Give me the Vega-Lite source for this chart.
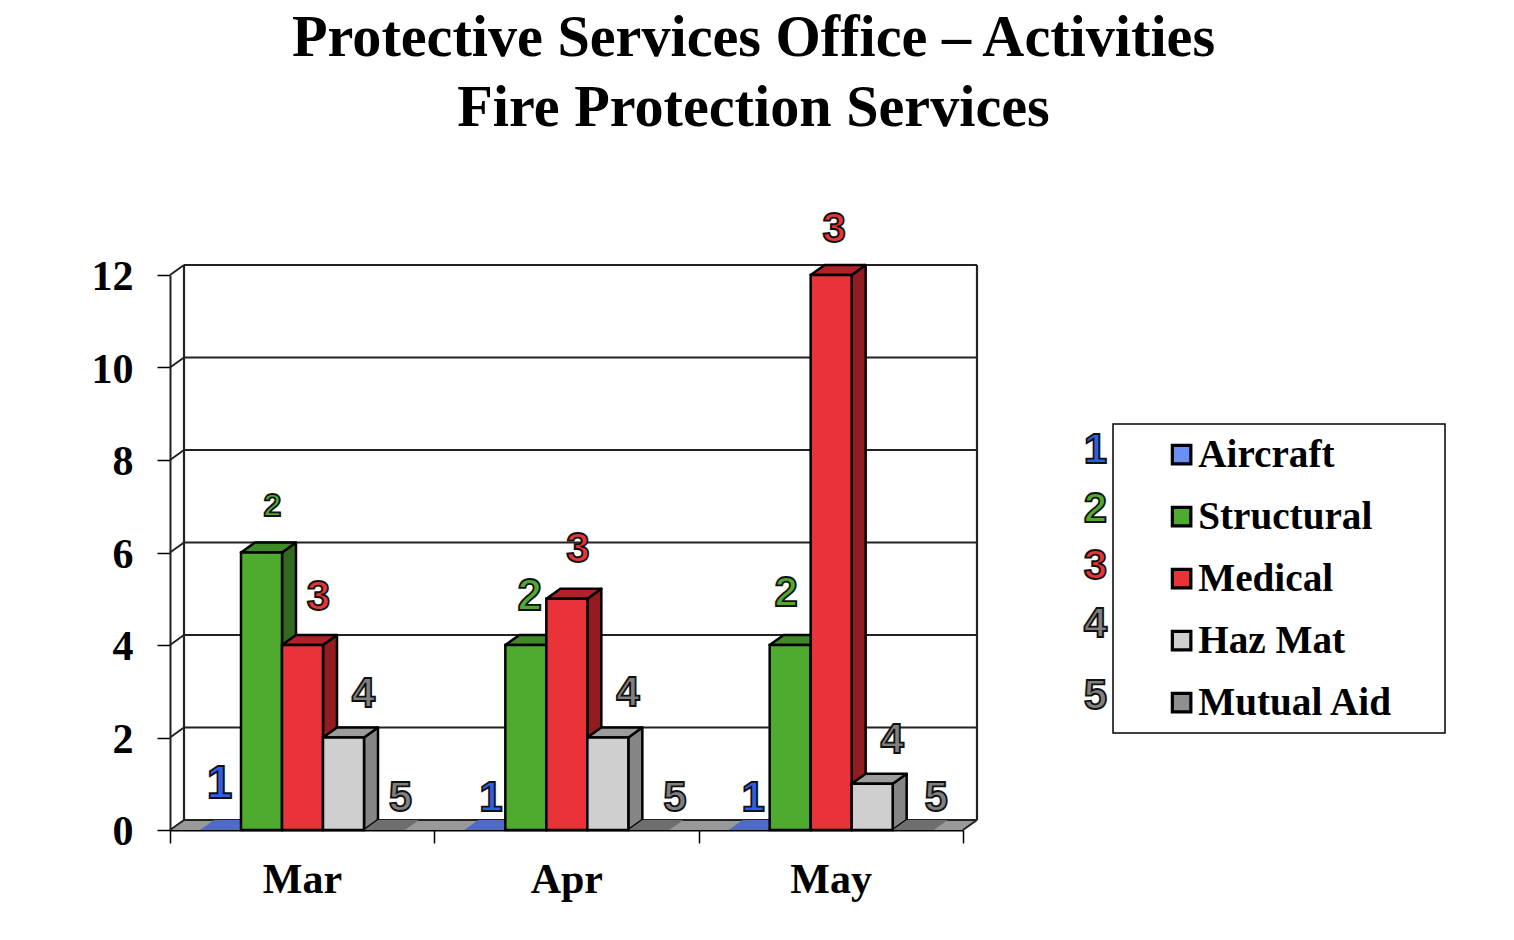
{"$schema":"https://vega.github.io/schema/vega-lite/v6.json","width":793,"height":555,"autosize":"none","padding":{"left":170,"top":275,"right":551,"bottom":110},"background":"white",
"title":{"text":["Protective Services Office – Activities","Fire Protection Services"],"font":"Liberation Serif","fontWeight":"bold","fontSize":58.2,"lineHeight":70,"color":"black","anchor":"middle","dx":187,"offset":70},
"config":{"view":{"stroke":null},"font":"Liberation Serif"},
"data":{"values":[
{"month":"Mar","series":"Aircraft","value":0,"code":"1"},{"month":"Mar","series":"Structural","value":6,"code":"2"},{"month":"Mar","series":"Medical","value":4,"code":"3"},{"month":"Mar","series":"Haz Mat","value":2,"code":"4"},{"month":"Mar","series":"Mutual Aid","value":0,"code":"5"},
{"month":"Apr","series":"Aircraft","value":0,"code":"1"},{"month":"Apr","series":"Structural","value":4,"code":"2"},{"month":"Apr","series":"Medical","value":5,"code":"3"},{"month":"Apr","series":"Haz Mat","value":2,"code":"4"},{"month":"Apr","series":"Mutual Aid","value":0,"code":"5"},
{"month":"May","series":"Aircraft","value":0,"code":"1"},{"month":"May","series":"Structural","value":4,"code":"2"},{"month":"May","series":"Medical","value":12,"code":"3"},{"month":"May","series":"Haz Mat","value":1,"code":"4"},{"month":"May","series":"Mutual Aid","value":0,"code":"5"}
]},
"transform":[
{"calculate":"indexof(['Mar','Apr','May'],datum.month)","as":"mi"},
{"calculate":"indexof(['Aircraft','Structural','Medical','Haz Mat','Mutual Aid'],datum.series)","as":"si"},
{"calculate":"datum.mi+(30+datum.si*41)/264.33","as":"xL"},
{"calculate":"datum.xL+41/264.33","as":"xR"},
{"calculate":"datum.month+datum.series","as":"barId"},
{"calculate":"{'Aircraft':'#4F6CC0','Structural':'#3F8A26','Medical':'#B02229','Haz Mat':'#9C9C9C','Mutual Aid':'#6E6E6E'}[datum.series]","as":"topColor"},
{"calculate":"{'Aircraft':'#3F559A','Structural':'#33691F','Medical':'#931C21','Haz Mat':'#858585','Mutual Aid':'#5A5A5A'}[datum.series]","as":"sideColor"},
{"calculate":"{'Aircraft':'#2F5FE8','Structural':'#4FAB2F','Medical':'#E93338','Haz Mat':'#808080','Mutual Aid':'#808080'}[datum.series]","as":"labelColor"}
],
"layer":[
{"data":{"values":[{"corner":0},{"corner":1}]},"transform":[{"calculate":"datum.corner*14/264.33","as":"fx"},{"calculate":"3+datum.corner*14/264.33","as":"fx2"},{"calculate":"datum.corner*10/46.25","as":"fy"}],
"mark":{"type":"area","orient":"horizontal","fill":"#999999"},
"encoding":{"y":{"field":"fy","type":"quantitative","stack":null,"scale":{"domain":[0,12],"nice":false},"axis":{"values":[0,2,4,6,8,10,12],"title":null,"grid":false,"tickSize":13,"tickWidth":1.5,"tickColor":"black","domainColor":"#222222","domainWidth":2,"labelFont":"Liberation Serif","labelFontWeight":"bold","labelFontSize":42,"labelColor":"black","labelPadding":24,"labelBaseline":"middle","labelOffset":1.5,"labelOverlap":false,"labelBound":false,"labelFlush":false}},
"x":{"field":"fx","type":"quantitative","scale":{"domain":[0,3],"nice":false,"zero":false},"axis":{"values":[0,1,2,3],"title":null,"grid":false,"tickSize":13,"tickWidth":1.5,"tickColor":"black","domainColor":"black","domainWidth":2,"labelExpr":"['Mar','Apr','May',''][datum.value]","labelOffset":132,"labelFont":"Liberation Serif","labelFontWeight":"bold","labelFontSize":42,"labelColor":"black","labelPadding":16,"labelOverlap":false,"labelBound":false,"labelFlush":false}},
"x2":{"field":"fx2"}}},
{"data":{"values":[{"level":0},{"level":2},{"level":4},{"level":6},{"level":8},{"level":10},{"level":12}]},"transform":[{"calculate":"14/264.33","as":"bx"},{"calculate":"3+14/264.33","as":"bx2"},{"calculate":"datum.level+10/46.25","as":"by"}],
"mark":{"type":"rule","stroke":"#222222","strokeWidth":2.2},"encoding":{"x":{"field":"bx","type":"quantitative"},"x2":{"field":"bx2"},"y":{"field":"by","type":"quantitative"}}},
{"data":{"values":[{"level":0},{"level":2},{"level":4},{"level":6},{"level":8},{"level":10},{"level":12}]},"transform":[{"calculate":"0","as":"a"},{"calculate":"14/264.33","as":"bx"},{"calculate":"datum.level+10/46.25","as":"by"}],
"mark":{"type":"rule","stroke":"#222222","strokeWidth":2},"encoding":{"x":{"field":"a","type":"quantitative"},"x2":{"field":"bx"},"y":{"field":"level","type":"quantitative"},"y2":{"field":"by"}}},
{"data":{"values":[{"edge":0},{"edge":3}]},"transform":[{"calculate":"datum.edge+14/264.33","as":"bx"},{"calculate":"10/46.25","as":"y0"},{"calculate":"12+10/46.25","as":"y1"}],
"mark":{"type":"rule","stroke":"#222222","strokeWidth":2.2},"encoding":{"x":{"field":"bx","type":"quantitative"},"y":{"field":"y0","type":"quantitative"},"y2":{"field":"y1"}}},
{"data":{"values":[{"edge":3}]},"transform":[{"calculate":"datum.edge+14/264.33","as":"bx"},{"calculate":"10/46.25","as":"by"},{"calculate":"0","as":"y0"}],
"mark":{"type":"rule","stroke":"#222222","strokeWidth":2},"encoding":{"x":{"field":"edge","type":"quantitative"},"x2":{"field":"bx"},"y":{"field":"y0","type":"quantitative"},"y2":{"field":"by"}}},
{"transform":[{"filter":"datum.value>0"},{"calculate":"[0,1]","as":"corner"},{"flatten":["corner"]},{"calculate":"datum.xR+datum.corner*14/264.33","as":"sx"},{"calculate":"datum.value+datum.corner*10/46.25","as":"sy"},{"calculate":"datum.corner*10/46.25","as":"sy2"}],
"mark":{"type":"area","orient":"vertical","stroke":"black","strokeWidth":2.5,"strokeJoin":"round"},
"encoding":{"x":{"field":"sx","type":"quantitative"},"y":{"field":"sy","type":"quantitative","stack":null},"y2":{"field":"sy2"},"detail":{"field":"barId"},"fill":{"field":"sideColor","type":"nominal","scale":null,"legend":null}}},
{"transform":[{"calculate":"[0,1]","as":"corner"},{"flatten":["corner"]},{"calculate":"datum.xL+datum.corner*14/264.33","as":"tx"},{"calculate":"datum.xR+datum.corner*14/264.33","as":"tx2"},{"calculate":"datum.value+datum.corner*10/46.25","as":"ty"}],
"mark":{"type":"area","orient":"horizontal","strokeJoin":"round","stroke":"black"},
"encoding":{"y":{"field":"ty","type":"quantitative","stack":null},"x":{"field":"tx","type":"quantitative"},"x2":{"field":"tx2"},"detail":{"field":"barId"},"fill":{"field":"topColor","type":"nominal","scale":null,"legend":null},"strokeWidth":{"condition":{"test":"datum.value>0","value":2.5},"value":0}}},
{"transform":[{"filter":"datum.value>0"},{"calculate":"0","as":"base"}],
"mark":{"type":"rect","stroke":"black","strokeWidth":2.5},
"encoding":{"x":{"field":"xL","type":"quantitative"},"x2":{"field":"xR"},"y":{"field":"value","type":"quantitative"},"y2":{"field":"base"},
"fill":{"field":"series","type":"nominal","scale":{"domain":["Aircraft","Structural","Medical","Haz Mat","Mutual Aid"],"range":["#6A90F5","#4FAB2F","#E93338","#CFCFCF","#8F8F8F"]},
"legend":{"title":null,"orient":"none","legendX":992,"legendY":160,"padding":0,"symbolType":"square","symbolSize":342,"symbolStrokeColor":"black","symbolStrokeWidth":3.2,"labelFont":"Liberation Serif","labelFontWeight":"bold","labelFontSize":39.2,"labelColor":"black","labelOffset":-3,"rowPadding":22,"labelLimit":400}}}},
{"data":{"values":[{"box":"legend"}]},"transform":[{"calculate":"(1113-170)/264.33","as":"x1"},{"calculate":"(1445-170)/264.33","as":"x2"},{"calculate":"(830-424)/46.25","as":"y1"},{"calculate":"(830-733)/46.25","as":"y2"}],
"mark":{"type":"rect","fillOpacity":0,"stroke":"black","strokeWidth":1.5},"encoding":{"x":{"field":"x1","type":"quantitative"},"x2":{"field":"x2"},"y":{"field":"y1","type":"quantitative"},"y2":{"field":"y2"}}},
{"transform":[{"calculate":"datum.month+'|'+datum.series","as":"k"},
{"calculate":"{'Mar|Aircraft':-2,'Mar|Structural':10,'Mar|Medical':15,'Mar|Haz Mat':19,'Mar|Mutual Aid':15,'Apr|Aircraft':5,'Apr|Structural':3,'Apr|Medical':10,'Apr|Haz Mat':19,'Apr|Mutual Aid':25,'May|Aircraft':3,'May|Structural':-5,'May|Medical':2,'May|Haz Mat':19,'May|Mutual Aid':22}[datum.k]","as":"ox"},
{"calculate":"{'Mar|Aircraft':47,'Mar|Structural':48,'Mar|Medical':49,'Mar|Haz Mat':45,'Mar|Mutual Aid':33,'Apr|Aircraft':33,'Apr|Structural':49,'Apr|Medical':51,'Apr|Haz Mat':46,'Apr|Mutual Aid':33,'May|Aircraft':33,'May|Structural':53,'May|Medical':47,'May|Haz Mat':45,'May|Mutual Aid':33}[datum.k]","as":"oy"},
{"calculate":"datum.k=='Mar|Structural'?32:datum.k=='Mar|Aircraft'?46:datum.k=='Apr|Structural'?44:42","as":"fs"},
{"calculate":"(datum.xL+datum.xR)/2+(datum.ox+1)/264.33","as":"lx"},{"calculate":"datum.value+(datum.oy-1)/46.25","as":"ly"}],
"mark":{"type":"text","font":"Liberation Sans","fontWeight":"bold","stroke":"#111111","strokeWidth":1.8,"baseline":"middle","align":"center"},
"encoding":{"x":{"field":"lx","type":"quantitative"},"y":{"field":"ly","type":"quantitative"},"text":{"field":"code"},"size":{"field":"fs","type":"quantitative","scale":null,"legend":null},"fill":{"field":"labelColor","type":"nominal","scale":null,"legend":null}}},
{"transform":[{"filter":"datum.month=='May'"},{"calculate":"(1095.5-170)/264.33","as":"lx"},{"calculate":"{'Aircraft':8.21,'Structural':6.95,'Medical':5.71,'Haz Mat':4.46,'Mutual Aid':2.9}[datum.series]","as":"ly"}],
"mark":{"type":"text","font":"Liberation Sans","fontWeight":"bold","fontSize":42,"stroke":"#111111","strokeWidth":1.8,"baseline":"middle","align":"center"},
"encoding":{"x":{"field":"lx","type":"quantitative"},"y":{"field":"ly","type":"quantitative"},"text":{"field":"code"},"fill":{"field":"labelColor","type":"nominal","scale":null,"legend":null}}}
],
"resolve":{"scale":{"fill":"independent"}}}
